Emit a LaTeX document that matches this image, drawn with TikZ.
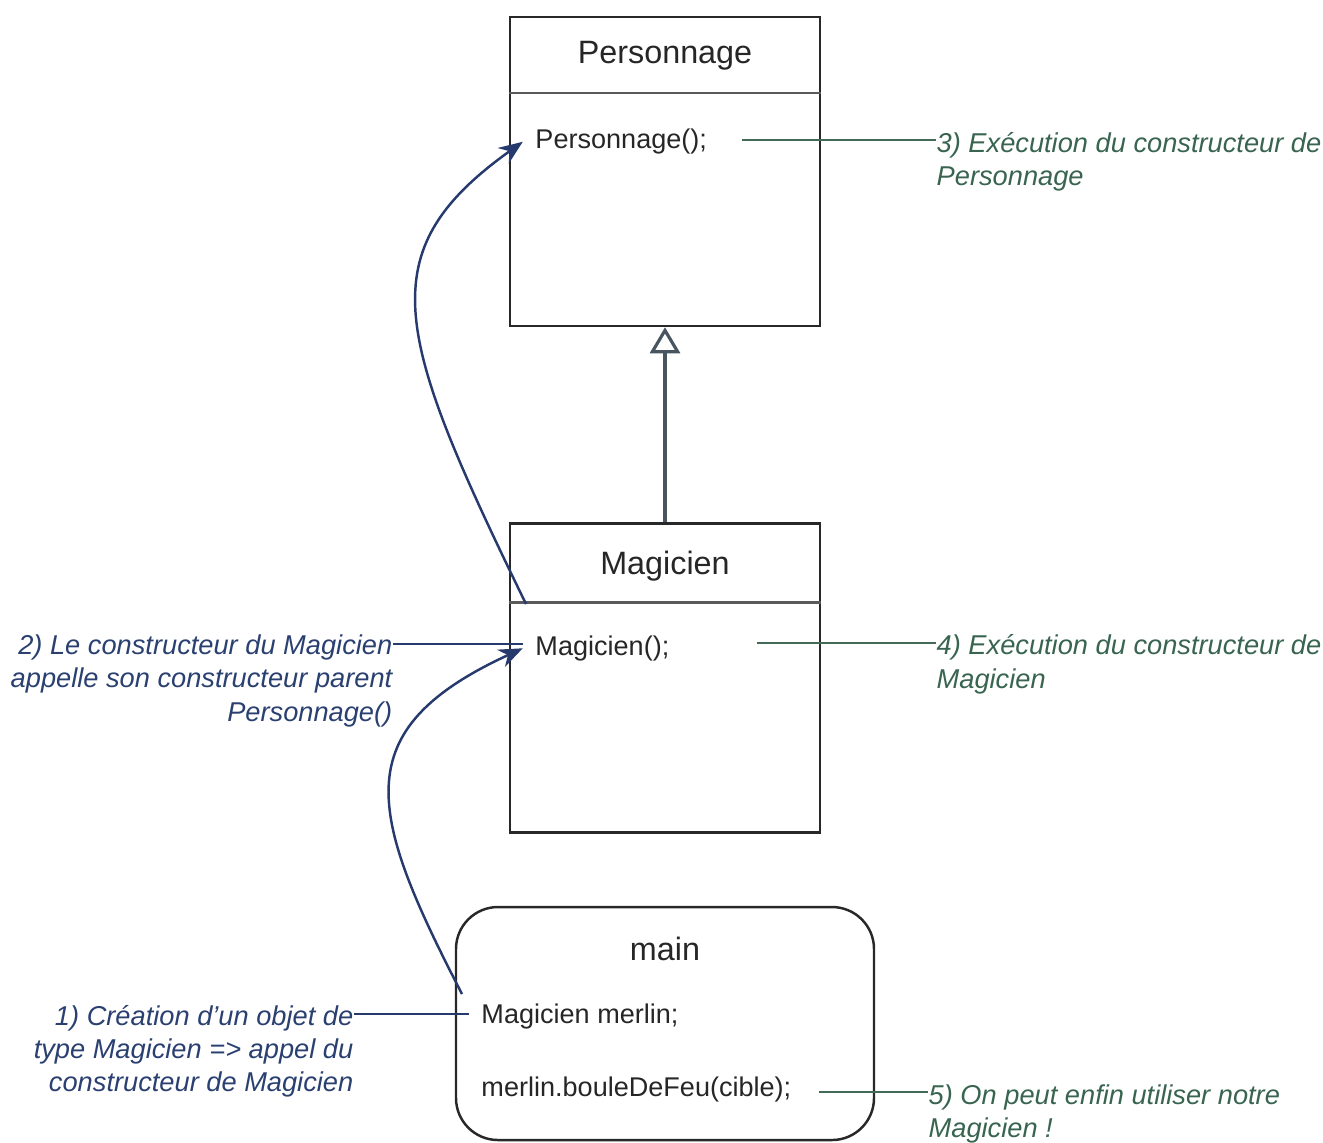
\documentclass[tikz,border=0pt]{standalone}
\usepackage{fontspec}
\setmainfont{Liberation Sans}
\usetikzlibrary{arrows.meta,positioning}

\definecolor{umlline}{RGB}{40,40,40}
\definecolor{umlsep}{RGB}{90,90,90}
\definecolor{inhline}{RGB}{72,84,96}
\definecolor{callblue}{RGB}{38,58,110}
\definecolor{noteblue}{RGB}{42,64,112}
\definecolor{notegreen}{RGB}{56,100,80}
\definecolor{linkgreen}{RGB}{66,106,86}

\begin{document}
\begin{tikzpicture}[every node/.style={inner sep=0pt,font=\fontsize{7.7}{9.3}\selectfont,text=black!85},
  classbox/.style={draw=umlline,line width=.7pt,minimum width=3.1cm,minimum height=3.09cm},
  mainbox/.style={draw=umlline,line width=.7pt,rounded corners=.42cm,minimum width=4.18cm,minimum height=2.33cm},
  boxtitle/.style={font=\fontsize{9.2}{11}\selectfont,anchor=base},
  member/.style={anchor=base west},
  bluenote/.style={font=\fontsize{7.75}{9.4}\selectfont\itshape,text=noteblue,align=right,anchor=base east},
  greennote/.style={font=\fontsize{7.75}{9.4}\selectfont\itshape,text=notegreen,align=left,anchor=base west},
  calllink/.style={draw=callblue,line width=.7pt},
  callarrow/.style={calllink,-{Stealth[length=2.4mm,width=1.9mm]}},
  runlink/.style={draw=linkgreen,line width=.8pt},
  inherit/.style={draw=inhline,line width=.9pt,-{Triangle[open,length=2.6mm,width=3mm,fill=white]}}]
\useasboundingbox (0,0) rectangle (13.23,-11.42);

% classes
\node[classbox] (perso) at (6.65,-1.715) {};
\draw[umlsep,line width=.7pt] ([yshift=-.77cm]perso.north west) -- ([yshift=-.77cm]perso.north east);
\node[boxtitle] (perso-title) at ([yshift=-.48cm]perso.north) {Personnage};
\node[member] (perso-ctor) at ([xshift=.26cm,yshift=-1.33cm]perso.north west) {Personnage();};

\node[classbox] (magi) at (6.65,-6.78) {};
\draw[umlsep,line width=.7pt] ([yshift=-.80cm]magi.north west) -- ([yshift=-.80cm]magi.north east);
\node[boxtitle] (magi-title) at ([yshift=-.52cm]magi.north) {Magicien};
\node[member] (magi-ctor) at ([xshift=.26cm,yshift=-1.33cm]magi.north west) {Magicien();};

\node[mainbox] (main) at (6.65,-10.235) {};
\node[boxtitle] (main-title) at ([yshift=-.55cm]main.north) {main};
\node[member] (main-decl) at ([xshift=.26cm,yshift=-1.18cm]main.north west) {Magicien merlin;};
\node[member] (main-call) at ([xshift=.26cm,yshift=-1.91cm]main.north west) {merlin.bouleDeFeu(cible);};

\draw[inherit] (magi.north) -- (perso.south);

% calls
\coordinate (from-magi) at (5.26,-6.04);
\coordinate (from-main) at (4.62,-9.94);
\coordinate (to-perso) at ([xshift=-1.2mm]perso-ctor.west);
\coordinate (to-magi) at ([xshift=-1.2mm]magi-ctor.west);
\draw[callarrow] (from-magi) .. controls (3.945,-3.34) and (3.684,-2.52) .. (to-perso);
\draw[callarrow] (from-main) .. controls (3.68,-8.12) and (3.45,-7.30) .. (to-magi);

% notes (base = last line)
\coordinate (n1) at (3.54,-10.14);
\coordinate (n2) at (3.93,-6.44);
\coordinate (n3) at (9.36,-1.40);
\coordinate (n4) at (9.36,-6.43);
\coordinate (n5) at (9.28,-10.92);
\node[bluenote] (note1) at ([yshift=-.775cm]n1) {1) Création d’un objet de\\type Magicien => appel du\\constructeur de Magicien};
\node[bluenote] (note2) at ([yshift=-.77cm]n2) {2) Le constructeur du Magicien\\appelle son constructeur parent\\Personnage()};
\node[greennote] (note3) at ([yshift=-.455cm]n3) {3) Exécution du constructeur de\\Personnage};
\node[greennote] (note4) at ([yshift=-.45cm]n4) {4) Exécution du constructeur de\\Magicien};
\node[greennote] (note5) at ([yshift=-.45cm]n5) {5) On peut enfin utiliser notre\\Magicien !};

\draw[calllink] (n1) -- ([xshift=-1.2mm]main-decl.west |- n1);
\draw[calllink] (n2) -- (to-magi |- n2);
\draw[runlink] ([xshift=.34cm]perso-ctor.east |- n3) -- (n3);
\draw[runlink] ([xshift=.87cm]magi-ctor.east |- n4) -- (n4);
\draw[runlink] ([xshift=.27cm]main-call.east |- n5) -- (n5);
\end{tikzpicture}
\end{document}
